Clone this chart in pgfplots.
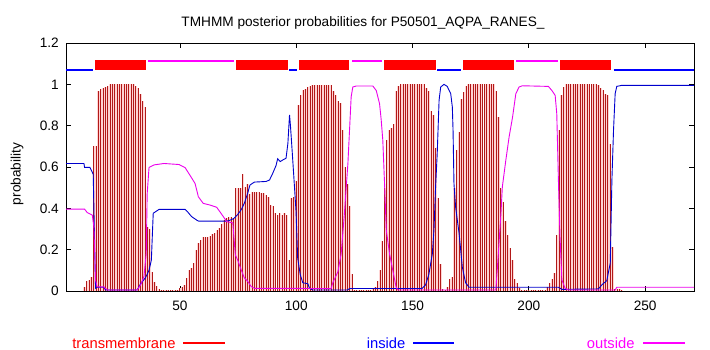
\documentclass[border=0pt]{standalone}
\usepackage{fontspec}
\setmainfont{Liberation Sans}
\usepackage{pgfplots}
\usepackage{pgfplotstable}
\pgfplotsset{compat=1.18}
\definecolor{tmdark}{RGB}{178,24,24}
\definecolor{tmpink}{RGB}{255,212,212}
\definecolor{incol}{RGB}{0,0,205}
\definecolor{outcol}{RGB}{235,0,235}
\definecolor{legred}{RGB}{255,0,0}
\definecolor{legblue}{RGB}{0,0,255}
\definecolor{legmag}{RGB}{255,0,255}

\pgfplotstableread[row sep=\\]{
r tm\\
9 0.02\\ 10 0.05\\ 11 0.055\\ 12 0.07\\ 13 0.70\\ 14 0.70\\ 15 0.97\\ 16 0.975\\ 17 0.98\\ 18 0.985\\ 19 0.99\\
20 1.0\\ 21 1.0\\ 22 1.0\\ 23 1.0\\ 24 1.0\\ 25 1.0\\ 26 1.0\\ 27 1.0\\ 28 1.0\\ 29 1.0\\ 30 1.0\\
31 0.99\\ 32 0.98\\ 33 0.955\\ 34 0.92\\ 35 0.89\\ 36 0.31\\ 37 0.30\\ 38 0.09\\ 39 0.045\\ 40 0.025\\ 41 0.012\\
42 0.004\\ 43 0.004\\ 44 0.004\\ 45 0.004\\ 46 0.004\\ 47 0.004\\ 48 0.004\\ 49 0.004\\
50 0.013\\ 51 0.021\\ 52 0.029\\ 53 0.061\\ 54 0.10\\ 55 0.109\\ 56 0.134\\ 57 0.198\\ 58 0.23\\ 59 0.246\\
60 0.259\\ 61 0.262\\ 62 0.262\\ 63 0.266\\ 64 0.275\\ 65 0.279\\ 66 0.295\\ 67 0.303\\ 68 0.324\\ 69 0.343\\
70 0.353\\ 71 0.36\\ 72 0.36\\ 73 0.35\\ 74 0.497\\ 75 0.497\\ 76 0.50\\ 77 0.565\\ 78 0.505\\ 79 0.52\\
80 0.47\\ 81 0.48\\ 82 0.48\\ 83 0.48\\ 84 0.478\\ 85 0.473\\ 86 0.473\\ 87 0.465\\ 88 0.457\\ 89 0.417\\
90 0.41\\ 91 0.376\\ 92 0.37\\ 93 0.376\\ 94 0.37\\ 95 0.376\\ 96 0.37\\ 97 0.15\\ 98 0.45\\ 99 0.455\\
100 0.53\\ 101 0.90\\ 102 0.947\\ 103 0.971\\ 104 0.979\\ 105 0.987\\ 106 0.99\\ 107 0.995\\ 108 0.995\\ 109 0.995\\
110 0.995\\ 111 0.995\\ 112 0.995\\ 113 0.995\\ 114 0.995\\ 115 0.995\\ 116 0.97\\ 117 0.947\\ 118 0.92\\ 119 0.91\\
120 0.78\\ 121 0.60\\ 122 0.52\\ 123 0.41\\ 124 0.08\\ 125 0.003\\ 126 0.003\\ 127 0.003\\ 128 0.003\\ 129 0.003\\
130 0.003\\ 131 0.003\\ 132 0.003\\ 133 0.01\\ 134 0.02\\ 135 0.05\\ 136 0.10\\ 137 0.24\\ 138 0.50\\ 139 0.73\\
140 0.78\\ 141 0.79\\ 142 0.81\\ 143 0.97\\ 144 0.99\\ 145 1.0\\ 146 1.0\\ 147 1.0\\ 148 1.0\\ 149 1.0\\
150 1.0\\ 151 1.0\\ 152 1.0\\ 153 1.0\\ 154 1.0\\ 155 1.0\\ 156 0.98\\ 157 0.97\\ 158 0.87\\ 159 0.85\\
160 0.69\\ 161 0.45\\ 162 0.13\\ 163 0.01\\ 164 0.005\\ 165 0.02\\ 166 0.06\\ 167 0.07\\ 168 0.50\\ 169 0.68\\
170 0.77\\ 171 0.93\\ 172 0.965\\ 173 0.99\\ 174 1.0\\ 175 1.0\\ 176 1.0\\ 177 1.0\\ 178 1.0\\ 179 1.0\\
180 1.0\\ 181 1.0\\ 182 1.0\\ 183 1.0\\ 184 1.0\\ 185 1.0\\ 186 0.97\\ 187 0.84\\ 188 0.50\\ 189 0.43\\
190 0.34\\ 191 0.27\\ 192 0.21\\ 193 0.15\\ 194 0.06\\ 195 0.04\\ 196 0.015\\ 197 0.004\\ 198 0.004\\ 199 0.004\\
200 0.004\\ 201 0.004\\ 202 0.004\\ 203 0.004\\ 204 0.004\\ 205 0.004\\ 206 0.004\\ 207 0.004\\ 208 0.02\\ 209 0.037\\
210 0.06\\ 211 0.085\\ 212 0.27\\ 213 0.78\\ 214 0.947\\ 215 0.987\\ 216 1.0\\ 217 1.0\\ 218 1.0\\ 219 1.0\\
220 1.0\\ 221 1.0\\ 222 1.0\\ 223 1.0\\ 224 1.0\\ 225 1.0\\ 226 1.0\\ 227 1.0\\ 228 1.0\\ 229 1.0\\
230 0.995\\ 231 0.98\\ 232 0.971\\ 233 0.955\\ 234 0.947\\ 235 0.713\\ 236 0.214\\ 237 0.01\\ 238 0.01\\ 239 0.01\\
240 0.005\\
}\tmtable

\pgfplotstableread[row sep=\\]{
r p\\
1 0.617\\ 8.7 0.617\\ 9 0.598\\ 11.3 0.598\\ 12.7 0.565\\ 13.7 0.013\\ 14.4 0.018\\ 17.3 0.018\\ 18 0.005\\
31.6 0.005\\ 33.1 0.035\\ 35.2 0.065\\ 36.7 0.1\\ 37.7 0.15\\ 38.5 0.376\\ 41 0.395\\ 52.2 0.395\\ 53.5 0.38\\
55 0.36\\ 57.2 0.343\\ 58 0.338\\ 69.4 0.338\\ 71 0.34\\ 73 0.35\\ 74.8 0.37\\ 76.3 0.393\\ 77.7 0.425\\
79.1 0.473\\ 80.1 0.513\\ 82 0.527\\ 87 0.53\\ 88.5 0.537\\ 89.9 0.57\\ 91.3 0.607\\ 92 0.64\\ 93.1 0.626\\
94.2 0.634\\ 95.6 0.642\\ 96.4 0.715\\ 97.1 0.852\\ 97.5 0.80\\ 98.1 0.70\\ 98.9 0.562\\ 99.9 0.385\\
100.6 0.16\\ 101.7 0.08\\ 102.8 0.04\\ 105 0.035\\ 105.7 0.013\\ 107 0.005\\ 122 0.005\\ 123 0.012\\
154 0.012\\ 155.6 0.03\\ 157 0.08\\ 158.5 0.18\\ 159.2 0.295\\ 159.9 0.504\\ 160.6 0.665\\ 161.4 0.923\\
162.1 0.987\\ 163.5 1.0\\ 164.9 0.99\\ 166.4 0.955\\ 167.1 0.89\\ 167.4 0.78\\ 167.8 0.52\\ 168.5 0.407\\
170 0.279\\ 171.4 0.115\\ 172.8 0.04\\ 174.3 0.018\\ 212.7 0.018\\ 214.2 0.008\\ 229.9 0.01\\ 231.4 0.03\\
233.5 0.05\\ 235 0.135\\ 235.7 0.536\\ 236.4 0.778\\ 237.1 0.955\\ 237.8 0.99\\ 239.9 0.995\\ 271 0.995\\
}\intable

\pgfplotstableread[row sep=\\]{
r p\\
1 0.396\\ 9 0.396\\ 10.1 0.38\\ 12.3 0.367\\ 13 0.31\\ 13.7 0.053\\ 14.4 0.02\\ 17.3 0.02\\ 18.7 0.005\\
31.6 0.005\\ 33.1 0.03\\ 34.5 0.07\\ 35.5 0.18\\ 35.9 0.47\\ 36.7 0.598\\ 38.8 0.61\\ 43.1 0.617\\
49.6 0.612\\ 52.2 0.597\\ 54.3 0.56\\ 56.5 0.52\\ 57.9 0.456\\ 60 0.424\\ 62.9 0.416\\ 65.8 0.405\\
67.2 0.383\\ 68.7 0.359\\ 70.1 0.335\\ 72.7 0.33\\ 73 0.29\\ 73.8 0.175\\ 74.8 0.15\\ 76.3 0.103\\
77.7 0.063\\ 79.1 0.047\\ 80.6 0.022\\ 82 0.013\\ 115 0.012\\ 115.7 0.04\\ 117.9 0.093\\ 119.3 0.18\\
120.7 0.375\\ 122.2 0.617\\ 122.9 0.778\\ 123.6 0.939\\ 124.3 0.987\\ 125.8 0.992\\ 132.9 0.992\\
134.4 0.97\\ 135.8 0.907\\ 136.5 0.83\\ 137.2 0.73\\ 137.9 0.536\\ 138.7 0.295\\ 140.1 0.18\\ 141.5 0.10\\
142.9 0.02\\ 143.7 0.005\\ 185.8 0.005\\ 186.5 0.117\\ 188 0.375\\ 188.6 0.504\\ 190.1 0.633\\
191.5 0.745\\ 193 0.842\\ 194.4 0.955\\ 195.8 0.987\\ 197.2 0.993\\ 208.4 0.99\\ 209.9 0.97\\
211.3 0.947\\ 212 0.858\\ 212.7 0.536\\ 213.4 0.262\\ 214.2 0.053\\ 215.6 0.013\\ 217 0.005\\
237.1 0.005\\ 237.8 0.018\\ 271 0.018\\
}\outtable

\newcommand{\tf}{\fontsize{13.7}{15}\selectfont}
\newcommand{\lf}{\fontsize{14.8}{16}\selectfont}

\begin{document}
\begin{tikzpicture}
\path[use as bounding box] (-66bp,-59bp) rectangle (644bp,291bp);
\begin{axis}[
  at={(0,0)}, anchor=south west,
  scale only axis, width=628bp, height=248bp,
  xmin=1, xmax=271, ymin=0, ymax=1.2,
  xtick={50,100,150,200,250},
  ytick={0,0.2,0.4,0.6,0.8,1,1.2},
  tick align=inside,
  major tick length=5bp,
  axis line style={line width=0.8bp},
  every tick/.style={black, line width=0.8bp},
  tick label style={font=\tf},
  /pgf/number format/assume math mode=true,
  xticklabel style={anchor=base, yshift=-19bp},
  yticklabel style={anchor=east, inner sep=0pt, xshift=-7bp},
  clip=true,
]
% transmembrane bars
\addplot[ycomb, color=tmpink, line width=2.3bp, line cap=butt, mark=none] table[x=r, y=tm] {\tmtable};
\addplot[ycomb, color=tmdark, line width=1bp, line cap=butt, mark=none] table[x=r, y=tm] {\tmtable};
% inside / outside curves
\addplot[color=incol, line width=0.9bp, mark=none] table[x=r, y=p] {\intable};
\addplot[color=outcol, line width=0.9bp, mark=none] table[x=r, y=p] {\outtable};
% topology: inside
\addplot[color=legblue, line width=2.7bp, line cap=butt, mark=none] coordinates {(1,1.070) (12.5,1.070)};
\addplot[color=legblue, line width=2.7bp, line cap=butt, mark=none] coordinates {(96.9,1.070) (100.4,1.070)};
\addplot[color=legblue, line width=2.7bp, line cap=butt, mark=none] coordinates {(160.6,1.070) (170.9,1.070)};
\addplot[color=legblue, line width=2.7bp, line cap=butt, mark=none] coordinates {(236.4,1.070) (271,1.070)};
% topology: outside
\addplot[color=legmag, line width=2.3bp, line cap=butt, mark=none] coordinates {(36.1,1.113) (73.2,1.113)};
\addplot[color=legmag, line width=2.3bp, line cap=butt, mark=none] coordinates {(124,1.113) (137,1.113)};
\addplot[color=legmag, line width=2.3bp, line cap=butt, mark=none] coordinates {(194.6,1.113) (212.7,1.113)};
% topology: TM helices
\addplot[color=legred, line width=10bp, line cap=butt, mark=none] coordinates {(13.4,1.092) (35.4,1.092)};
\addplot[color=legred, line width=10bp, line cap=butt, mark=none] coordinates {(74.1,1.092) (96.5,1.092)};
\addplot[color=legred, line width=10bp, line cap=butt, mark=none] coordinates {(101.2,1.092) (122.8,1.092)};
\addplot[color=legred, line width=10bp, line cap=butt, mark=none] coordinates {(137.8,1.092) (160.2,1.092)};
\addplot[color=legred, line width=10bp, line cap=butt, mark=none] coordinates {(171.8,1.092) (193.8,1.092)};
\addplot[color=legred, line width=10bp, line cap=butt, mark=none] coordinates {(213.6,1.092) (235.5,1.092)};
\end{axis}
% title and y label
\node[anchor=base, inner sep=0pt, font=\tf, color=black] at (297bp,264bp) {TMHMM posterior probabilities for P50501\_AQPA\_RANES\_};
\node[rotate=90, anchor=center, inner sep=0pt, font=\tf, color=black] at (-49bp,117bp) {probability};
% legend
\node[anchor=base east, inner sep=0pt, font=\lf, color=legred] at (109.8bp,-57bp) {transmembrane};
\fill[legred] (117bp,-53bp) rectangle (159bp,-51bp);
\node[anchor=base east, inner sep=0pt, font=\lf, color=legblue] at (339.5bp,-57bp) {inside};
\fill[legblue] (347bp,-53bp) rectangle (388bp,-51bp);
\node[anchor=base east, inner sep=0pt, font=\lf, color=legmag] at (568.7bp,-57bp) {outside};
\fill[legmag] (577bp,-53bp) rectangle (619bp,-51bp);
\end{tikzpicture}
\end{document}
